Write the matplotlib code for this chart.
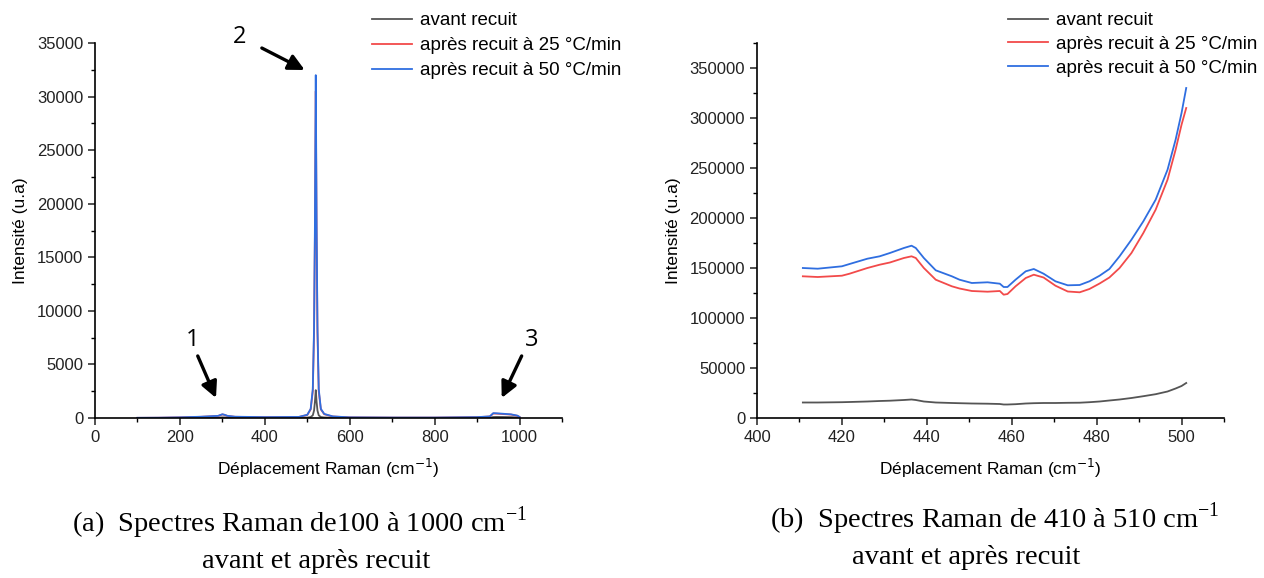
import matplotlib
matplotlib.use("Agg")
import matplotlib.pyplot as plt
from matplotlib.ticker import MultipleLocator

# --- spectre complet 100-1000 cm-1 ------------------------------------------
full_x = [100, 150, 200, 250, 290, 300, 305, 312, 330, 400, 480, 500, 508, 513,
          516, 518, 520, 522, 524, 527, 532, 540, 560, 600, 700, 800, 900, 930,
          938, 945, 960, 980, 995, 1000]
full_avant = [5, 8, 15, 25, 40, 60, 55, 45, 30, 20, 25, 40, 90, 250,
              700, 1500, 2600, 1500, 700, 250, 90, 50, 30, 20, 15, 15, 25, 40,
              90, 100, 95, 80, 50, 20]
full_25 = [15, 25, 55, 110, 190, 330, 290, 190, 110, 75, 95, 280, 800, 2500,
           8000, 17000, 30500, 17000, 8000, 2500, 800, 350, 140, 55, 35, 35, 75, 140,
           420, 410, 370, 320, 200, 90]
full_50 = [20, 30, 60, 120, 200, 350, 300, 200, 120, 80, 100, 300, 850, 2700,
           8500, 18000, 32000, 18000, 8500, 2700, 850, 380, 150, 60, 40, 40, 80, 150,
           450, 440, 400, 340, 220, 100]

# --- zoom 410-510 cm-1 --------------------------------------------------------
zoom_x = [410.8, 414.3, 420.0, 421.8, 426.0, 428.9, 431.3, 434.6, 436.4, 437.4,
          439.3, 442.1, 445.9, 447.7, 450.6, 454.3, 457.2, 458.1, 459.0, 460.9,
          463.3, 465.2, 467.5, 470.3, 473.2, 476.0, 478.3, 480.7, 483.0, 485.4,
          488.2, 491.0, 493.9, 496.7, 498.6, 500.0, 501.1]
zoom_50 = [150000, 149300, 151700, 154000, 159300, 161700, 165000, 170000, 172300, 170000,
           160000, 147700, 141700, 138300, 135000, 135700, 134300, 131000, 131000, 138300,
           146700, 149000, 144300, 136700, 132700, 133000, 136700, 142300, 149000, 161700,
           178300, 196700, 218300, 248300, 278300, 305000, 330000]
zoom_25 = [141700, 141000, 142300, 144300, 150000, 153300, 155500, 160000, 161700, 160000,
           150000, 138300, 131700, 129500, 127000, 126300, 127000, 123300, 124000, 131700,
           140000, 143300, 140500, 132300, 126500, 125700, 129000, 134500, 140500, 150000,
           165000, 185000, 208300, 238300, 268300, 293300, 310000]
zoom_avant = [15500, 15500, 15800, 16000, 16500, 17000, 17300, 18000, 18500, 18000,
              16500, 15500, 15000, 14800, 14500, 14300, 14000, 13500, 13500, 13800,
              14500, 14800, 15000, 15000, 15200, 15300, 15800, 16500, 17500, 18500,
              20000, 21800, 23800, 26500, 29500, 32000, 35000]

legend_labels = ["avant recuit", "après recuit à 25 °C/min", "après recuit à 50 °C/min"]
colors = ["#555555", "#f24a4a", "#2f6ee0"]

plt.rcParams["font.family"] = ["Liberation Sans", "DejaVu Sans"]

fig = plt.figure(figsize=(12.64, 5.78), dpi=100)
ax1 = fig.add_axes([95 / 1264, 1 - 418 / 578, 467 / 1264, 375 / 578])
ax2 = fig.add_axes([757 / 1264, 1 - 418 / 578, 467 / 1264, 375 / 578])

for ax, xs, series in ((ax1, full_x, (full_avant, full_25, full_50)),
                       (ax2, zoom_x, (zoom_avant, zoom_25, zoom_50))):
    for ys, c, lab in zip(series, colors, legend_labels):
        ax.plot(xs, ys, color=c, lw=1.3, label=lab)
    for s in ("top", "right"):
        ax.spines[s].set_visible(False)
    ax.spines["left"].set_linewidth(1.2)
    ax.spines["bottom"].set_linewidth(1.2)
    ax.tick_params(which="major", direction="out", length=5, width=1.1,
                   labelsize=12, colors="#222222")
    ax.tick_params(which="minor", direction="out", length=3, width=1.0)
    ax.set_xlabel("Déplacement Raman (cm$^{-1}$)", fontsize=12.5, labelpad=9)
    ax.set_ylabel("Intensité (u.a)", fontsize=12.5, labelpad=6)

# panneau (a)
ax1.set_xlim(0, 1100)
ax1.set_ylim(0, 35000)
ax1.xaxis.set_major_locator(MultipleLocator(200))
ax1.xaxis.set_minor_locator(MultipleLocator(100))
ax1.yaxis.set_major_locator(MultipleLocator(5000))
ax1.yaxis.set_minor_locator(MultipleLocator(2500))

# panneau (b)
ax2.set_xlim(400, 510)
ax2.set_ylim(0, 375000)
ax2.set_xticks([400, 420, 440, 460, 480, 500])
ax2.xaxis.set_minor_locator(MultipleLocator(10))
ax2.set_yticks(range(0, 350001, 50000))
ax2.yaxis.set_minor_locator(MultipleLocator(25000))

for ax, x0, ls in ((ax1, 372, 0.42), (ax2, 1008, 0.36)):
    ax.legend(loc="upper left", bbox_to_anchor=(x0 / 1264, 1 - 12 / 578),
              bbox_transform=fig.transFigure, frameon=False, fontsize=13.5,
              handlelength=2.15, handletextpad=0.42, labelspacing=ls,
              borderaxespad=0, borderpad=0)

# flèches et numéros des pics
arrow = dict(arrowstyle="-|>", color="black", lw=2.4, mutation_scale=24,
             shrinkA=0, shrinkB=0)
ax1.annotate("", xy=(494, 32480), xytext=(393, 34530), arrowprops=arrow,
             annotation_clip=False)
ax1.annotate("", xy=(285, 1870), xytext=(242, 5790), arrowprops=arrow)
ax1.annotate("", xy=(958, 1870), xytext=(1005, 5790), arrowprops=arrow)
num_font = dict(fontsize=17, family=["Open Sans", "DejaVu Sans"], ha="center", va="center")
ax1.text(341, 35600, "2", clip_on=False, **num_font)
ax1.text(231, 7250, "1", **num_font)
ax1.text(1028, 7250, "3", **num_font)

# légendes sous les figures
cap = dict(fontsize=20.5, family=["Liberation Serif", "DejaVu Serif"], ha="center", va="center")
fig.text(300 / 1264, 1 - 523 / 578, "(a)  Spectres Raman de100 à 1000 cm$^{\\mathregular{-1}}$", **cap)
fig.text(316 / 1264, 1 - 562 / 578, "avant et après recuit", **cap)
fig.text(995 / 1264, 1 - 519 / 578, "(b)  Spectres Raman de 410 à 510 cm$^{\\mathregular{-1}}$", **cap)
fig.text(966 / 1264, 1 - 557 / 578, "avant et après recuit", **cap)

fig.savefig("out.png", dpi=100)
